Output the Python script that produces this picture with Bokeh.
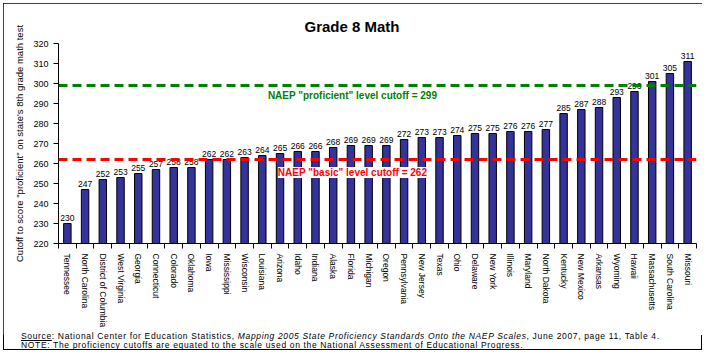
from bokeh.plotting import figure
from bokeh.layouts import column
from bokeh.models import Range1d, LinearAxis, FixedTicker, Span, Label, Div
from bokeh.embed import file_html
from bokeh.resources import INLINE

states = ["Tennessee", "North Carolina", "District of Columbia", "West Virginia", "Georgia",
          "Connecticut", "Colorado", "Oklahoma", "Iowa", "Mississippi", "Wisconsin",
          "Louisiana", "Arizona", "Idaho", "Indiana", "Alaska", "Florida", "Michigan",
          "Oregon", "Pennsylvania", "New Jersey", "Texas", "Ohio", "Delaware", "New York",
          "Illinois", "Maryland", "North Dakota", "Kentucky", "New Mexico", "Arkansas",
          "Wyoming", "Hawaii", "Massachusetts", "South Carolina", "Missouri"]
scores = [230, 247, 252, 253, 255, 257, 258, 258, 262, 262, 263, 264, 265, 266, 266, 268,
          269, 269, 269, 272, 273, 273, 274, 275, 275, 276, 276, 277, 285, 287, 288, 293,
          296, 301, 305, 311]
y_ticks = [220, 230, 240, 250, 260, 270, 280, 290, 300, 310, 320]
basic_cutoff = 262
proficient_cutoff = 299

title_text = "Grade 8 Math"
y_label = 'Cutoff to score "proficient" on state\'s 8th grade math test'
source_label = "Source"
source_body = ": National Center for Education Statistics, "
source_title = "Mapping 2005 State Proficiency Standards Onto the NAEP Scales"
source_tail = ", June 2007, page 11, Table 4."
note_text = ("NOTE: The proficiency cutoffs are equated to the scale used on the "
             "National Assessment of Educational Progress.")

FONT = "Liberation Sans"
n = len(states)
xs = list(range(n))

p = figure(width=699, height=332,
           x_range=Range1d(-0.5, n - 0.5), y_range=Range1d(y_ticks[0], y_ticks[-1]),
           x_axis_type=None, output_backend="svg", toolbar_location=None,
           min_border_left=55, min_border_right=6, min_border_top=40, min_border_bottom=92)
p.xgrid.visible = False
p.ygrid.visible = False
p.outline_line_color = None
p.background_fill_color = "white"
p.border_fill_color = "white"

p.title.text = title_text
p.title.align = "left"
p.title.offset = 246
p.title.standoff = 18
p.title.text_font = FONT
p.title.text_font_size = "15px"
p.title.text_font_style = "bold"
p.title.text_color = "black"

yax = p.yaxis[0]
yax.ticker = FixedTicker(ticks=y_ticks)
yax.axis_line_color = "black"
yax.major_tick_out = 5
yax.major_tick_in = 0
yax.minor_tick_out = 0
yax.minor_tick_in = 0
yax.major_label_standoff = 5
yax.major_label_text_font = FONT
yax.major_label_text_font_size = "9px"
yax.major_label_text_color = "black"
yax.axis_label = y_label
yax.axis_label_text_font = FONT
yax.axis_label_text_font_size = "9.5px"
yax.axis_label_text_font_style = "normal"
yax.axis_label_text_color = "black"
yax.axis_label_standoff = 5

xax = LinearAxis(ticker=FixedTicker(ticks=xs, minor_ticks=[i - 0.5 for i in range(n + 1)]),
                 major_label_overrides={i: s for i, s in zip(xs, states)})
xax.major_label_orientation = "vertical"
xax.axis_line_color = "black"
xax.major_tick_out = 0
xax.major_tick_in = 0
xax.minor_tick_out = 5
xax.minor_tick_in = 0
xax.major_label_standoff = 5
xax.major_label_text_font = FONT
xax.major_label_text_font_size = "8.5px"
xax.major_label_text_color = "black"
p.add_layout(xax, "below")

p.vbar(x=xs, top=scores, bottom=y_ticks[0], width=0.42,
       fill_color="#333399", line_color="black", line_width=1)

p.text(x=xs, y=scores, text=[str(v) for v in scores], y_offset=-3,
       text_align="center", text_baseline="bottom",
       text_font={"value": FONT}, text_font_size={"value": "8.5px"}, text_color="black")

p.add_layout(Span(location=proficient_cutoff, dimension="width", line_color="#008000",
                  line_width=3, line_dash="9 5"))
p.add_layout(Span(location=basic_cutoff, dimension="width", line_color="#FF0000",
                  line_width=3, line_dash="9 5"))

p.add_layout(Label(x=294, x_units="screen", y=proficient_cutoff, y_offset=-10,
                   text='NAEP "proficient" level cutoff = %d' % proficient_cutoff,
                   text_align="center", text_baseline="middle", text_font=FONT,
                   text_font_size="10px", text_font_style="bold", text_color="#008000",
                   background_fill_color="white"))
p.add_layout(Label(x=294, x_units="screen", y=basic_cutoff, y_offset=-13,
                   text='NAEP "basic" level cutoff = %d' % basic_cutoff,
                   text_align="center", text_baseline="middle", text_font=FONT,
                   text_font_size="10px", text_font_style="bold", text_color="#FF0000",
                   background_fill_color="white"))

foot_html = (
    '<div style="position:relative; top:-3px; left:18px; font-family:\'Liberation Sans\'; '
    'font-size:8.5px; line-height:9px; letter-spacing:0.65px; color:black; white-space:nowrap;">'
    '<u>%s</u>%s<i>%s</i>%s<br>%s</div>'
    % (source_label, source_body, source_title, source_tail, note_text))
foot = Div(text=foot_html, width=699, height=15, margin=(0, 0, 0, 0))

layout = column(p, foot, spacing=0)
layout.styles = {"margin-left": "3px", "margin-top": "3px",
                 "outline": "1px solid black", "outline-offset": "-1px"}

open("out.html", "w").write(file_html(layout, INLINE))
